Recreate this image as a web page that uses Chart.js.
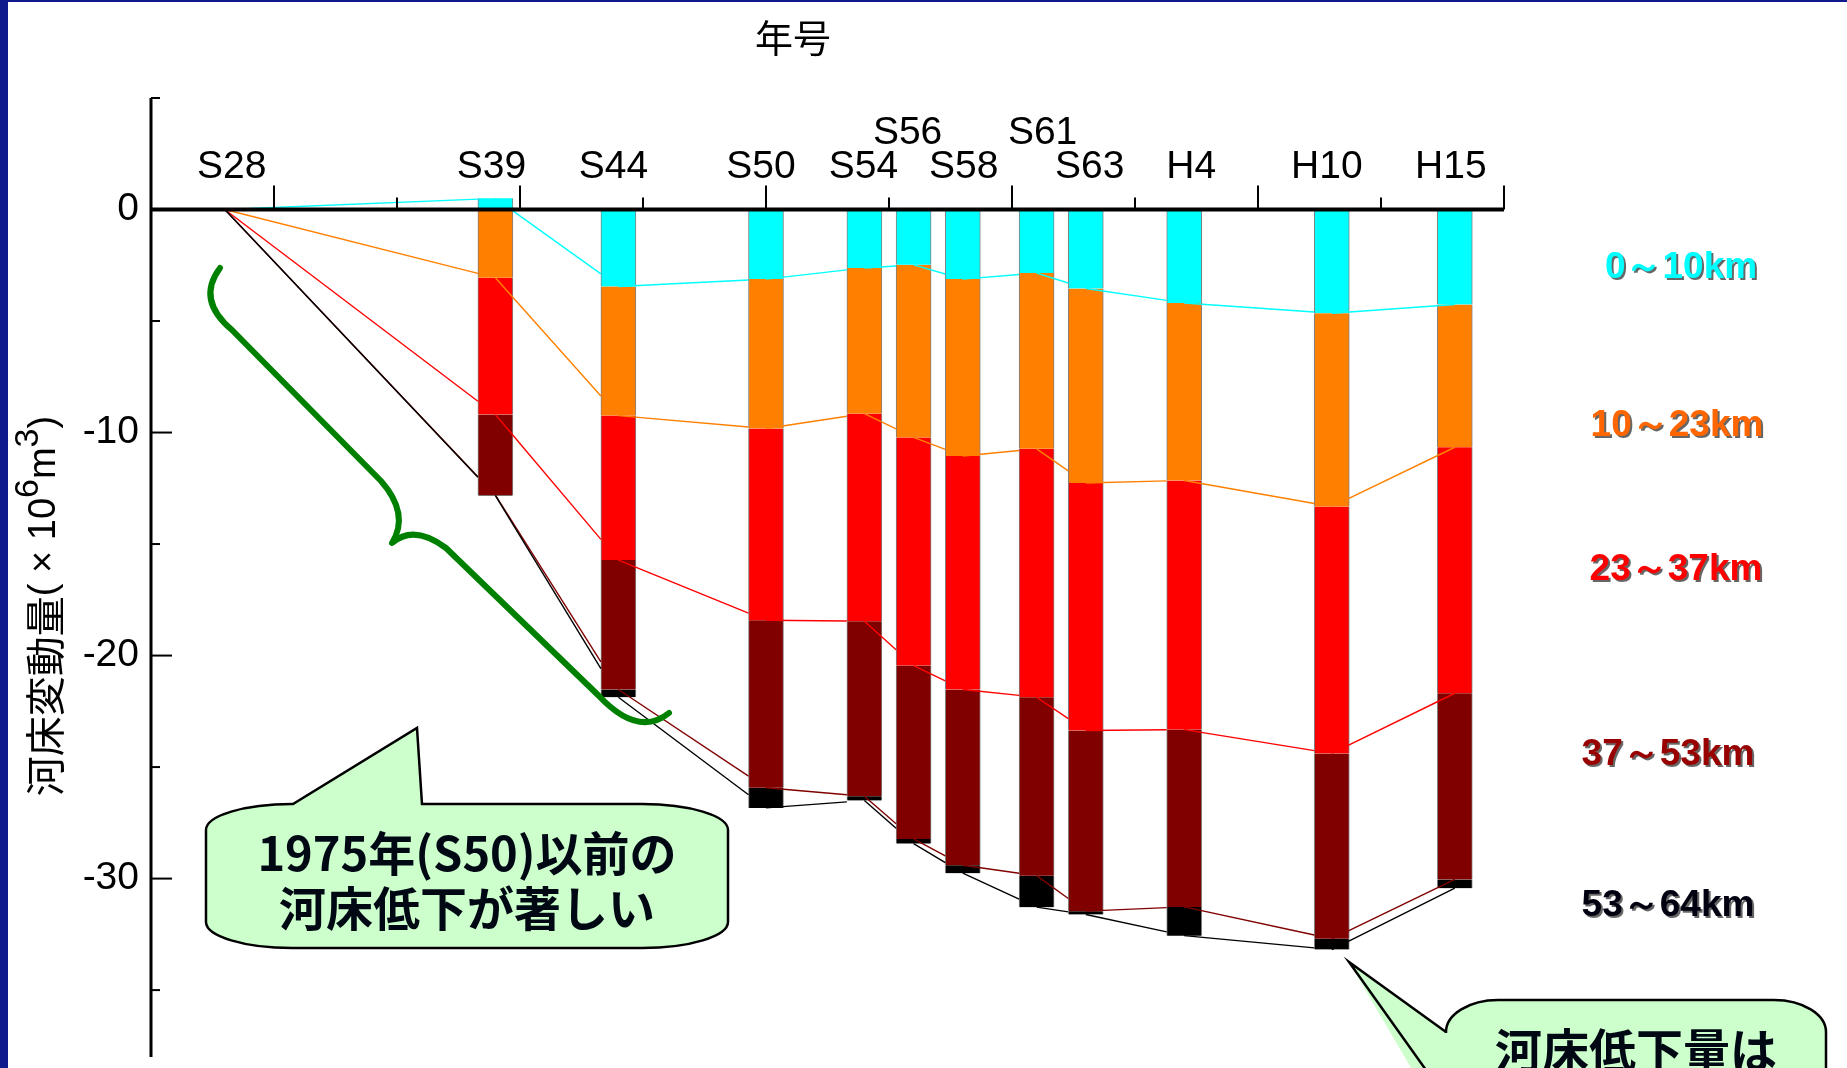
<!DOCTYPE html>
<html lang="ja">
<head>
<meta charset="utf-8">
<title>河床変動量</title>
<script src="https://cdn.jsdelivr.net/npm/chart.js@4.4.1/dist/chart.umd.min.js"></script>
<style>
  html, body { margin: 0; padding: 0; background: #fff; overflow: hidden; }
  canvas { display: block; }
</style>
</head>
<body>
<canvas id="chart" width="1847" height="1068"></canvas>
<script>
// 年号 (西暦) と表示ラベル
const years  = [1953, 1964, 1969, 1975, 1979, 1981, 1983, 1986, 1988, 1992, 1998, 2003];
const labels = ["S28", "S39", "S44", "S50", "S54", "S56", "S58", "S61", "S63", "H4", "H10", "H15"];
const raisedLabels = ["S56", "S61"];

// 区間別の河床変動量 (×10^6 m3)
const km0_10  = [0,  0.50, -3.45, -3.12, -2.62, -2.48, -3.12, -2.85, -3.54, -4.19, -4.65, -4.26];
const km10_23 = [0, -3.06, -5.79, -6.70, -6.53, -7.74, -7.93, -7.88, -8.72, -7.96, -8.67, -6.40];
const km23_37 = [0, -6.13, -6.48, -8.60, -9.31, -10.23, -10.47, -11.14, -11.10, -11.17, -11.07, -11.03];
const km37_53 = [0, -3.62, -5.80, -7.51, -7.85, -7.77, -7.88, -8.00, -8.10, -7.95, -8.31, -8.35];
const km53_64 = [0, -0.02, -0.35, -0.90, -0.19, -0.21, -0.36, -1.41, -0.15, -1.29, -0.48, -0.39];

const seriesNames = ["0～10km", "10～23km", "23～37km", "37～53km", "53～64km"];
const yTickValues = [0, -10, -20, -30];

const barColors   = ["#00FFFF", "#FF8000", "#FF0000", "#800000", "#000000"];
const labelColors = ["#00FFFF", "#FF6600", "#FF0000", "#990000", "#000010"];

const JP = '"Noto Sans CJK JP", sans-serif';
const LAT = '"Liberation Sans", Arial, sans-serif';

function toPoints(arr) {
    return arr.map((v, i) => ({ x: years[i], y: v }));
}

const seriesValues = [km0_10, km10_23, km23_37, km37_53, km53_64];

/**
 * Series lines: centre of one segment end to the next bar
 * (hidden behind the next bar, except for the last one)
 */
const seriesLines = {
    id: "seriesLines",
    afterDatasetsDraw(chart) {
        const ctx = chart.ctx;
        ctx.save();
        chart.data.datasets.forEach((ds, d) => {
            const pts = chart.getDatasetMeta(d).data;
            ctx.strokeStyle = barColors[d];
            ctx.lineWidth = 1.4;
            for (let i = 0; i < pts.length - 1; i++) {
                const a = pts[i], b = pts[i + 1];
                const last = i + 1 === pts.length - 1;
                const xe = last ? b.x : b.x - b.width / 2;
                const ye = a.y + (b.y - a.y) * (xe - a.x) / (b.x - a.x);
                ctx.beginPath();
                ctx.moveTo(a.x, a.y);
                ctx.lineTo(xe, ye);
                ctx.stroke();
            }
        });
        ctx.restore();
    }
};

function calloutPath(ctx, L, T, R, B, rx, ry, b1, b2, tip) {
    const k = 0.55;
    ctx.beginPath();
    ctx.moveTo(L, T + ry);
    ctx.bezierCurveTo(L, T + ry - ry * k, L + rx - rx * k, T, L + rx, T);
    if (b1 !== null) {
        ctx.lineTo(b1, T);
        ctx.lineTo(tip[0], tip[1]);
        ctx.lineTo(b2, T);
    }
    ctx.lineTo(R - rx, T);
    ctx.bezierCurveTo(R - rx + rx * k, T, R, T + ry - ry * k, R, T + ry);
    ctx.lineTo(R, B - ry);
    ctx.bezierCurveTo(R, B - ry + ry * k, R - rx + rx * k, B, R - rx, B);
    ctx.lineTo(L + rx, B);
    ctx.bezierCurveTo(L + rx - rx * k, B, L, B - ry + ry * k, L, B - ry);
    ctx.closePath();
}

/**
 * Axes, labels and the slide annotations
 */
const decorations = {
    id: "decorations",
    afterDraw(chart) {
        const ctx = chart.ctx;
        const xs = chart.scales.x, ys = chart.scales.y;
        const y0 = ys.getPixelForValue(0);
        ctx.save();

        // slide frame
        ctx.fillStyle = "#0f1b8d";
        ctx.fillRect(0, 0, 8, chart.height);
        ctx.fillRect(0, 0, chart.width, 2);

        // y axis + ticks (inward)
        ctx.strokeStyle = "#000";
        ctx.lineWidth = 3;
        ctx.beginPath();
        ctx.moveTo(xs.left, ys.top);
        ctx.lineTo(xs.left, ys.bottom);
        ctx.stroke();
        ctx.lineWidth = 2;
        for (let v = 5; v >= ys.min; v -= 5) {
            const py = ys.getPixelForValue(v);
            const len = v % 10 === 0 ? 21 : 9;
            ctx.beginPath();
            ctx.moveTo(xs.left, py);
            ctx.lineTo(xs.left + len, py);
            ctx.stroke();
        }
        ctx.fillStyle = "#000";
        ctx.font = "39px " + LAT;
        ctx.textAlign = "right";
        ctx.textBaseline = "middle";
        yTickValues.forEach(v => ctx.fillText(String(v), xs.left - 12, ys.getPixelForValue(v)));

        // x axis at zero + ticks (upward)
        ctx.lineWidth = 4;
        ctx.beginPath();
        ctx.moveTo(xs.left, y0);
        ctx.lineTo(xs.right, y0);
        ctx.stroke();
        ctx.lineWidth = 2;
        for (let yr = 1955; yr <= xs.max; yr += 5) {
            const px = xs.getPixelForValue(yr);
            const len = yr % 10 === 5 ? 24 : 12;
            ctx.beginPath();
            ctx.moveTo(px, y0);
            ctx.lineTo(px, y0 - len);
            ctx.stroke();
        }

        // year labels (hand-placed in the original, so nudged a little)
        const nudge = { S28: 7, S39: -4, S44: -5, S50: -5, S54: -1, S56: -6, S58: 1,
                        S61: 6, S63: 4, H4: 7, H10: -5, H15: -4 };
        ctx.font = "39px " + LAT;
        ctx.textAlign = "center";
        ctx.textBaseline = "alphabetic";
        labels.forEach((lab, i) => {
            const up = raisedLabels.includes(lab);
            ctx.fillText(lab, xs.getPixelForValue(years[i]) + (nudge[lab] || 0), y0 - (up ? 66 : 32));
        });

        // titles
        ctx.font = "38px " + JP;
        ctx.textBaseline = "middle";
        ctx.fillText("年号", 793, 38);

        ctx.save();
        ctx.translate(45, 606);
        ctx.rotate(-Math.PI / 2);
        const parts = [
            { t: "河床変動量", f: "40px " + JP, dy: 0 },
            { t: "( × 10", f: "38px " + LAT, dy: 0 },
            { t: "6", f: "34px " + LAT, dy: -16 },
            { t: "m", f: "38px " + LAT, dy: 0 },
            { t: "3", f: "34px " + LAT, dy: -16 },
            { t: ")", f: "38px " + LAT, dy: 0 }
        ];
        let total = 0;
        parts.forEach(p => { ctx.font = p.f; p.w = ctx.measureText(p.t).width; total += p.w; });
        let cx = -total / 2;
        ctx.textAlign = "left";
        parts.forEach(p => { ctx.font = p.f; ctx.fillText(p.t, cx, p.dy); cx += p.w; });
        ctx.restore();

        // series names at right
        ctx.font = "bold 37px " + LAT;
        ctx.textAlign = "center";
        const namePos = [[1681, 268], [1677, 426], [1676, 570], [1668, 755], [1668, 906]];
        seriesNames.forEach((n, i) => {
            ctx.save();
            ctx.shadowColor = "rgba(0,0,0,0.6)";
            ctx.shadowOffsetX = 2;
            ctx.shadowOffsetY = 2;
            ctx.fillStyle = labelColors[i];
            ctx.fillText(n, namePos[i][0], namePos[i][1]);
            ctx.restore();
        });

        // green brace
        ctx.strokeStyle = "#008000";
        ctx.lineWidth = 6;
        ctx.lineCap = "round";
        ctx.lineJoin = "round";
        ctx.beginPath();
        ctx.moveTo(220, 268);
        ctx.quadraticCurveTo(196, 300, 232, 330);
        ctx.lineTo(381, 481);
        ctx.quadraticCurveTo(410, 514, 392, 543);
        ctx.quadraticCurveTo(414, 524, 446, 548);
        ctx.lineTo(598, 695);
        ctx.quadraticCurveTo(638, 738, 669, 713);
        ctx.stroke();

        // callouts
        ctx.lineCap = "butt";
        ctx.lineJoin = "miter";
        ctx.fillStyle = "#CCFFCC";
        ctx.strokeStyle = "#000";
        ctx.lineWidth = 2.5;
        calloutPath(ctx, 206, 804, 728, 948, 86, 26, 293, 422, [417, 728]);
        ctx.fill();
        ctx.stroke();

        // second callout, cut off at the bottom edge
        ctx.beginPath();
        ctx.moveTo(1349, 962);
        ctx.lineTo(1446, 1032);
        ctx.lineTo(1446, 1090);
        ctx.lineTo(1424, 1090);
        ctx.closePath();
        ctx.fill();
        calloutPath(ctx, 1446, 1000, 1826, 1130, 52, 32, null, null, null);
        ctx.fill();
        ctx.stroke();
        ctx.fillStyle = "#CCFFCC";
        ctx.fillRect(1436, 1033, 14, 60);
        ctx.beginPath();
        ctx.moveTo(1446, 1032);
        ctx.lineTo(1349, 962);
        ctx.lineTo(1426, 1070);
        ctx.stroke();

        ctx.fillStyle = "#000814";
        ctx.font = "bold 47px " + JP;
        ctx.textAlign = "center";
        ctx.textBaseline = "middle";
        ctx.fillText("1975年(S50)以前の", 467, 853);
        ctx.fillText("河床低下が著しい", 467, 908);
        ctx.fillText("河床低下量は", 1636, 1050);

        ctx.restore();
    }
};

new Chart(document.getElementById("chart"), {
    type: "bar",
    data: {
        datasets: seriesValues.map((vals, i) => ({
            label: seriesNames[i],
            data: toPoints(vals),
            backgroundColor: barColors[i],
            borderColor: "#808080",
            borderWidth: { left: 1, right: 1, top: 0, bottom: 0 },
            borderSkipped: false,
            barThickness: 35
        }))
    },
    options: {
        responsive: false,
        animation: false,
        events: [],
        layout: { padding: { left: 151, right: 343, top: 98, bottom: 11 } },
        plugins: { legend: { display: false }, tooltip: { enabled: false } },
        scales: {
            x: { type: "linear", min: 1950, max: 2005, stacked: true, offset: false, display: false },
            y: { type: "linear", min: -38, max: 5, stacked: true, display: false }
        }
    },
    plugins: [seriesLines, decorations]
});
</script>
</body>
</html>
